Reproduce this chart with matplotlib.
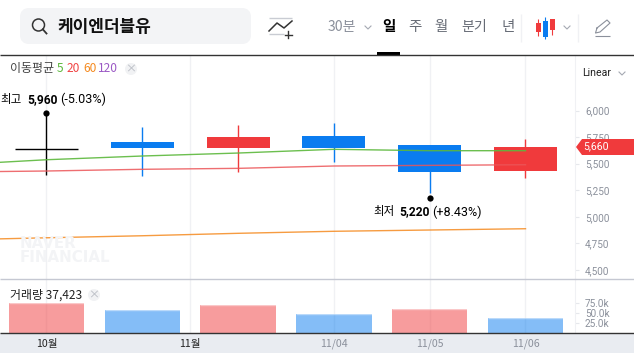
import matplotlib
matplotlib.use("Agg")
import matplotlib.pyplot as plt
from matplotlib.patches import Circle, FancyBboxPatch, Polygon, Rectangle

plt.rcParams['font.family'] = ['Noto Sans CJK KR', 'DejaVu Sans']

W, H = 634, 353
BLUE = '#0a7cf0'
RED = '#f03a3c'
GRAY = '#8b909b'
DARK = '#222222'

# candles
opens = [5635, 5704, 5647, 5760, 5675, 5430]
closes = [5635, 5647, 5751, 5647, 5424, 5660]
highs = [5960, 5845, 5864, 5882, 5680, 5732]
lows = [5393, 5384, 5424, 5518, 5220, 5368]
volumes = [76000, 57500, 70000, 47500, 60000, 37423]
vol_colors = [RED, BLUE, RED, BLUE, RED, BLUE]

# moving averages, first point is the candle left of the chart
ma_x = [-1, 0, 1, 2, 3, 4, 5]
ma5 = [5487, 5537, 5572, 5600, 5635, 5622, 5622]
ma20 = [5421, 5431, 5447, 5456, 5478, 5484, 5490]
ma60 = [4782, 4803, 4822, 4845, 4864, 4876, 4888]

price_ticks = [6000, 5750, 5500, 5250, 5000, 4750, 4500]
vol_ticks = [75000, 50000, 25000]
vol_tick_labels = ['75.0k', '50.0k', '25.0k']
date_ticks = [0, 1.5, 3, 4, 5]
date_labels = ['10월', '11월', '11/04', '11/05', '11/06']
date_colors = [DARK, DARK, GRAY, GRAY, GRAY]


def px(size):
    # font size given in pixels
    return size * 0.72


def box(x0, y0, x1, y1):
    return [x0 / W, 1 - y1 / H, (x1 - x0) / W, (y1 - y0) / H]


fig = plt.figure(figsize=(W / 100, H / 100), dpi=100, facecolor='white')

page = fig.add_axes([0, 0, 1, 1], zorder=0)
page.set_xlim(0, W)
page.set_ylim(H, 0)
page.axis('off')
page.add_patch(Rectangle((0, 333), W, 20, color='#e9ecf1', lw=0))
page.add_patch(FancyBboxPatch((24, 12), 223, 28, boxstyle='round,pad=0,rounding_size=5',
                              mutation_aspect=1, fc='#f3f4f6', ec='#f3f4f6', lw=5.76))

# price panel
ax = fig.add_axes(box(0, 55, 574.5, 278.5), zorder=1)
ax.patch.set_alpha(0)
xlim = (-46.5 / 95.8, 528 / 95.8)
ax.set_xlim(xlim)
ax.set_ylim(4420, 6522)
for s in ['top', 'left', 'bottom']:
    ax.spines[s].set_visible(False)
ax.spines['right'].set_color('#f0f1f4')
ax.grid(axis='x', color='#f0f1f4', lw=1)
ax.set_axisbelow(True)
ax.set_xticks(date_ticks)
ax.tick_params(axis='x', length=0, labelbottom=False)
ax.yaxis.tick_right()
ax.set_yticks(price_ticks)
ax.set_yticklabels([f'{t:,}' for t in price_ticks], fontsize=px(10), color=GRAY,
                   family=['Roboto', 'DejaVu Sans'])
ax.tick_params(axis='y', length=3, width=0.8, color='#e6e8ec', pad=4.5)

ax.plot(ma_x, ma60, color='#f58a1f', lw=1, alpha=0.85, zorder=4)
for i in range(len(opens)):
    if opens[i] == closes[i]:
        c = 'black'
    elif closes[i] > opens[i]:
        c = RED
    else:
        c = BLUE
    ax.vlines(i, lows[i], highs[i], color=c, lw=1, zorder=2)
    if opens[i] == closes[i]:
        ax.hlines(opens[i], i - 0.328, i + 0.328, color=c, lw=1, zorder=2)
    else:
        ax.bar(i, abs(closes[i] - opens[i]), bottom=min(opens[i], closes[i]), width=0.656,
               color=c, lw=0, zorder=2)
ax.plot(ma_x, ma5, color='#5cb83c', lw=1, alpha=0.9, zorder=3)
ax.plot(ma_x, ma20, color='#ec5558', lw=1, alpha=0.85, zorder=3)

# high / low markers sit a little off the wick ends
ax.plot([0], [highs[0] + 18], 'o', color='black', ms=4.5, zorder=5, mew=0)
ax.plot([4], [lows[4] - 47], 'o', color='black', ms=4.5, zorder=5, mew=0)

# volume panel
vol = fig.add_axes(box(0, 278.5, 574.5, 333), zorder=1)
vol.patch.set_alpha(0)
vol.set_xlim(xlim)
vol.set_ylim(0, 136000)
for s in ['top', 'left', 'bottom']:
    vol.spines[s].set_visible(False)
vol.spines['right'].set_color('#f0f1f4')
vol.grid(axis='x', color='#f0f1f4', lw=1)
vol.set_axisbelow(True)
for i in range(len(volumes)):
    vol.bar(i, volumes[i], width=0.785, color=vol_colors[i], alpha=0.5, lw=0)
    # lighter cap along the top of each bar
    vol.hlines(volumes[i], i - 0.3925, i + 0.3925, color='white', lw=1, alpha=0.45)
vol.set_xticks(date_ticks)
vol.set_xticklabels(date_labels, fontsize=px(10.5))
for lab, c in zip(vol.get_xticklabels(), date_colors):
    lab.set_color(c)
vol.tick_params(axis='x', length=0, pad=4.2)
vol.yaxis.tick_right()
vol.set_yticks(vol_ticks)
vol.set_yticklabels(vol_tick_labels, fontsize=px(10), color=GRAY,
                    family=['Roboto', 'DejaVu Sans'])
vol.tick_params(axis='y', length=3, width=0.8, color='#e6e8ec', pad=4.5)

# header, legends and other overlays
over = fig.add_axes([0, 0, 1, 1], zorder=3)
over.set_xlim(0, W)
over.set_ylim(H, 0)
over.axis('off')
over.patch.set_alpha(0)

over.hlines(55, 0, W, color='#333333', lw=1)
over.hlines(278.5, 0, W, color='#c5c8d2', lw=1)
over.hlines(333.2, 0, W, color='#333333', lw=1)
over.add_patch(Rectangle((377, 52), 23, 3, color='black', lw=0))

# search box
over.add_patch(Circle((38.5, 25), 6, fc='none', ec='#333333', lw=1.1))
over.plot([42.8, 46.5], [29.3, 33.5], color='#333333', lw=1.3)
over.text(57, 27.5, '케이엔더블유', fontsize=px(17), fontweight='black', va='center', color='#111111')

# indicator icon
over.hlines(17.5, 269, 292, color='#c9ccd3', lw=1)
over.hlines(33.5, 269, 284, color='#c9ccd3', lw=1)
over.plot([269, 277, 284, 292], [31, 23, 28, 21], color='#333333', lw=1.1)
over.plot([288, 288], [31, 38], color='#333333', lw=1)
over.plot([284.5, 291.5], [34.5, 34.5], color='#333333', lw=1)

over.text(342, 27, '30분', fontsize=px(14), color=GRAY, ha='center', va='center')
over.plot([365, 368, 371], [26, 29, 26], color='#a5a9b2', lw=0.8)
over.text(389, 26.5, '일', fontsize=px(14.5), color='black', fontweight='bold', ha='center', va='center')
over.text(415, 27, '주', fontsize=px(14.5), color='#666b75', fontweight='medium', ha='center', va='center')
over.text(441, 27, '월', fontsize=px(14.5), color='#666b75', fontweight='medium', ha='center', va='center')
over.text(474.5, 27, '분기', fontsize=px(14), color='#666b75', fontweight='medium', ha='center', va='center')
over.text(508, 27, '년', fontsize=px(14.5), color='#666b75', fontweight='medium', ha='center', va='center')
over.vlines([521, 578], 14, 42, color='#f0f1f4', lw=1)

# candle type icon
over.vlines([538.3, 545.3, 552.3], [19, 17, 19], [36, 39, 35], color=[RED, BLUE, RED], lw=0.8)
over.add_patch(Rectangle((536, 23), 5, 9, color=RED, lw=0))
over.add_patch(Rectangle((543, 21), 5, 16, color=BLUE, lw=0))
over.add_patch(Rectangle((550, 19), 5, 11, color=RED, lw=0))
over.plot([564, 567, 570], [26, 29, 26], color='#a5a9b2', lw=0.8)

# pencil icon
over.plot([597, 607, 610, 600, 595.5, 597], [28, 20, 23, 32, 33, 28], color='#8b909b', lw=0.8)
over.hlines(35.5, 595, 610, color='#8b909b', lw=0.8)

# MA legend
over.text(10, 68.5, '이동평균', fontsize=px(12), color='#444444', va='center')
for x0, s, c in [(57, '5', '#5cb83c'), (67, '20', '#f04444'), (83, '60', '#f58a1f'), (98, '120', '#9b59c5')]:
    over.text(x0, 68.5, s, fontsize=px(12), color=c, va='center')
over.add_patch(Circle((131, 69), 6, fc='#f1f2f4', ec='none'))
over.text(131, 68.5, '×', fontsize=px(11), color='#b4b8c0', ha='center', va='center')

over.text(582, 73, 'Linear', fontsize=px(10.5), color='#222222', va='center', family=['Roboto', 'DejaVu Sans'])
over.plot([619, 622, 625], [72, 75, 72], color='#a5a9b2', lw=0.8)

# high / low labels
over.text(0, 99.5, '최고', fontsize=px(11.5), color='black', va='center')
over.text(27, 99.5, '5,960', fontsize=px(12), color='black', va='center', fontweight='bold',
          family=['Roboto', 'DejaVu Sans'])
over.text(60, 99.5, '(-5.03%)', fontsize=px(12.5), color='black', va='center', family=['Roboto', 'DejaVu Sans'])
over.text(373, 212, '최저', fontsize=px(11.5), color='black', va='center')
over.text(399, 212, '5,220', fontsize=px(12), color='black', va='center', fontweight='bold',
          family=['Roboto', 'DejaVu Sans'])
over.text(432, 212, '(+8.43%)', fontsize=px(12.5), color='black', va='center', family=['Roboto', 'DejaVu Sans'])

# current price tag
over.add_patch(Polygon([(576, 147), (582, 139), (634, 139), (634, 155), (582, 155)], closed=True,
                       fc=RED, ec='none'))
over.text(595.5, 146.5, '5,660', fontsize=px(10.5), color='white', ha='center', va='center',
          family=['Roboto', 'DejaVu Sans'])

# volume label
over.text(10, 295, '거래량 37,423', fontsize=px(12), color='#222222', va='center')
over.add_patch(Circle((94, 295), 6, fc='#f1f2f4', ec='none'))
over.text(94, 294.5, '×', fontsize=px(11), color='#b4b8c0', ha='center', va='center')

# watermark
over.text(20, 244, 'NAVER', fontsize=px(15), color='#f3f4f6', fontweight='bold', va='center',
          family=['DejaVu Sans'])
over.text(20, 258, 'FINANCIAL', fontsize=px(15), color='#f3f4f6', fontweight='bold', va='center',
          family=['DejaVu Sans'])

fig.savefig('out.png', dpi=100)
